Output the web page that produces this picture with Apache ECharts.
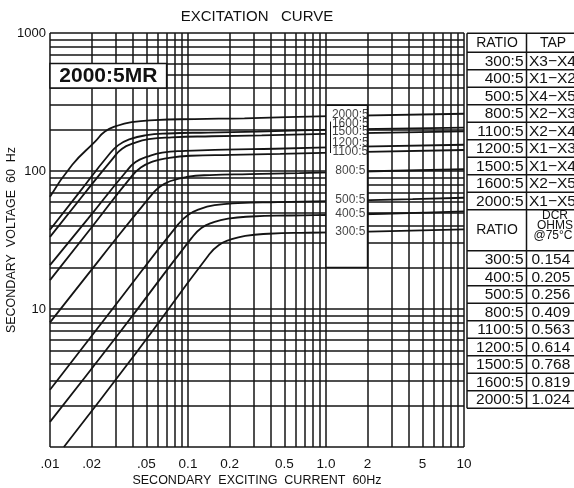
<!DOCTYPE html>
<html><head><meta charset="utf-8">
<script src="https://cdn.jsdelivr.net/npm/echarts@6/dist/echarts.min.js"></script>
<style>html,body{margin:0;padding:0;background:#fff}#c{width:574px;height:488px}</style>
</head><body><div id="c"></div>
<script>
// ---------- data ----------
const ratios  = ['300:5','400:5','500:5','800:5','1100:5','1200:5','1500:5','1600:5','2000:5'];
const taps    = ['X3\u2212X4','X1\u2212X2','X4\u2212X5','X2\u2212X3','X2\u2212X4','X1\u2212X3','X1\u2212X4','X2\u2212X5','X1\u2212X5'];
const dcrOhms = ['0.154','0.205','0.256','0.409','0.563','0.614','0.768','0.819','1.024'];

// excitation curves: [secondary exciting current (A), secondary voltage (V)]
const curve2000 = [[0.01,65],[0.0145,111],[0.0212,163],[0.025,193],[0.0304,212],[0.039,226],[0.0574,234],[0.112,238],[0.2565,241],[1.06,250],[10,260]];
const curve1600 = [[0.01,37.5],[0.0163,70],[0.0265,130],[0.0313,154],[0.038,170],[0.0488,181],[0.0718,187],[0.14,190],[0.32,193],[1.33,200],[10,206]];
const curve1500 = [[0.01,33.3],[0.0168,64],[0.0283,122],[0.0333,145],[0.0405,159],[0.052,170],[0.0765,175.5],[0.149,178.5],[0.342,181],[1.41,187.5],[10,194]];
const curve1200 = [[0.01,20.8],[0.0188,45],[0.0353,98],[0.0417,116],[0.0507,127],[0.065,136],[0.0957,140],[0.187,143],[0.428,145],[1.77,150],[10,155]];
const curve1100 = [[0.01,16.2],[0.0196,38],[0.0385,90],[0.0455,106],[0.0553,117],[0.0709,124],[0.104,129],[0.204,131],[0.466,133],[1.93,137.5],[10,142]];
const curve800  = [[0.01,8.0],[0.023,23],[0.053,65],[0.0625,77],[0.076,85],[0.0975,90.5],[0.1435,93.5],[0.28,95],[0.641,96.5],[2.65,100],[10,103]];
const curve500  = [[0.01,2.6],[0.029,10.3],[0.0848,41],[0.1,48],[0.1216,53],[0.156,56.5],[0.23,58.5],[0.448,59.5],[1.03,60.5],[4.24,62.5],[10,64]];
const curve400  = [[0.01,1.52],[0.0325,6.9],[0.106,32.6],[0.125,38.6],[0.152,42.4],[0.195,45.2],[0.287,46.8],[0.56,47.6],[1.28,48.2],[5.3,50],[10,51]];
const curve300  = [[0.0126,1],[0.042,4.8],[0.141,24.5],[0.1667,29],[0.203,31.8],[0.26,33.9],[0.383,35.1],[0.747,35.7],[1.71,36.2],[7.07,37.5],[10,37.8]];
const curves = [curve2000,curve1600,curve1500,curve1200,curve1100,curve800,curve500,curve400,curve300];

const curveLabelNames  = ['2000:5','1600:5','1500:5','1200:5','1100:5','800:5','500:5','400:5','300:5'];
const curveLabelLevels = [254,219,192,161,137,100,61.6,48.8,36.1];

const xTickValues = [0.01,0.02,0.05,0.1,0.2,0.5,1,2,5,10];
const xTickLabels = ['.01','.02','.05','0.1','0.2','0.5','1.0','2','5','10'];
const yTickValues = [10,100,1000];
const yTickLabels = ['10','100','1000'];

// log-paper grid: 1..9 in each decade
const gridMults = [1,2,3,4,5,6,7,8,9];
const xDecades = [0.01,0.1,1];
const yDecades = [1,10,100];
const xGrid = []; xDecades.forEach(d => gridMults.forEach(m => xGrid.push(+(d*m).toPrecision(4)))); xGrid.push(10);
const yGrid = []; yDecades.forEach(d => gridMults.forEach(m => yGrid.push(+(d*m).toPrecision(4)))); yGrid.push(1000);

// ---------- chart ----------
const FONT = "'Liberation Sans', Arial, sans-serif";
const INK = '#141414';
const chart = echarts.init(document.getElementById('c'), null, {renderer:'canvas'});

function fmtFrom(values, labels){
  return v => { const i = values.findIndex(t => Math.abs(Math.log10(t) - Math.log10(v)) < 1e-6); return i >= 0 ? labels[i] : ''; };
}

const series = [];
series.push({
  type:'line', data:[[0.01,1]], showSymbol:false, silent:true, z:1,
  lineStyle:{opacity:0},
  markLine:{
    z:1, silent:true, symbol:['none','none'], label:{show:false}, emphasis:{disabled:true},
    lineStyle:{color:INK, width:1.5, type:'solid'},
    data:[...xGrid.map(v => ({xAxis:v})), ...yGrid.map(v => ({yAxis:v}))]
  }
});
curves.forEach((c,i) => series.push({
  type:'line', name:curveLabelNames[i], data:c, showSymbol:false, silent:true, z:2,
  smooth:0.5,
  lineStyle:{color:INK, width:1.8}
}));
series.push({
  type:'line', data:[[0.01,1]], showSymbol:false, silent:true, z:10,
  lineStyle:{opacity:0},
  markArea:{
    z:10, silent:true, label:{show:false},
    itemStyle:{color:'#ffffff', borderColor:INK, borderWidth:1.5},
    data:[
      [{name:'2000:5MR', coord:[0.01,600], label:{show:true, position:'inside', fontSize:21, fontWeight:'bold', color:'#111', fontFamily:FONT}}, {coord:[0.07,400]}],
      [{coord:[1,300]}, {coord:[2,20]}]
    ]
  },
  markLine:{
    z:11, silent:true, symbol:['none','none'], label:{show:false}, emphasis:{disabled:true},
    lineStyle:{color:INK, width:1, type:'solid'},
    data:[[{coord:[1.075,228]},{coord:[1.075,135]}]]
  }
});
series.push({
  type:'scatter', z:12, silent:true, symbolSize:1, itemStyle:{color:'rgba(0,0,0,0)'},
  data: curveLabelNames.map((n,i) => [1.5, curveLabelLevels[i], n]),
  label:{show:true, position:'inside', formatter:p => p.value[2], fontSize:12, color:'#111', fontFamily:FONT}
});

// table (graphic)
const T = {left:467, mid:526.5, right:585, top:33.3, h1:19, row:17.5, h2:41};
const g = [];
const lineStyle = {stroke:INK, lineWidth:1.5};
const hy = [T.top, T.top+T.h1];
for (let i=1;i<=9;i++) hy.push(T.top+T.h1+T.row*i);
const t2 = T.top+T.h1+T.row*9;
hy.push(t2+T.h2);
for (let i=1;i<=9;i++) hy.push(t2+T.h2+T.row*i);
const tBottom = hy[hy.length-1];
hy.forEach(y => g.push({type:'line', shape:{x1:T.left,y1:y,x2:T.right,y2:y}, style:lineStyle, z:100}));
[T.left, T.mid].forEach(x => g.push({type:'line', shape:{x1:x,y1:T.top,x2:x,y2:tBottom}, style:lineStyle, z:100}));
const txt = (s,x,y,align,size,extra) => g.push({type:'text', x:x, y:y, z:101,
  style:Object.assign({text:s, fill:'#111', font:`${size}px ${FONT}`, textAlign:align, textVerticalAlign:'middle'}, extra||{})});
const HF = "'Liberation Sans Narrow', 'Liberation Sans', Arial, sans-serif";
g.push({type:'text', x:497, y:T.top+T.h1/2+0.5, z:101, style:{text:'RATIO', fill:'#111', font:`14px ${HF}`, textAlign:'center', textVerticalAlign:'middle'}});
g.push({type:'text', x:553, y:T.top+T.h1/2+0.5, z:101, style:{text:'TAP', fill:'#111', font:`14px ${HF}`, textAlign:'center', textVerticalAlign:'middle'}});
ratios.forEach((r,i) => {
  const yc = T.top+T.h1+T.row*i+T.row/2+0.5;
  txt(r, 523.5, yc, 'right', 15.5);
  txt(taps[i], 529, yc, 'left', 15.5);
});
g.push({type:'text', x:497, y:t2+T.h2/2, z:101, style:{text:'RATIO', fill:'#111', font:`14px ${HF}`, textAlign:'center', textVerticalAlign:'middle'}});
g.push({type:'text', x:555, y:t2+5.5, z:101, style:{text:'DCR', fill:'#111', font:`12px ${HF}`, textAlign:'center', textVerticalAlign:'middle'}});
g.push({type:'text', x:555, y:t2+15.5, z:101, style:{text:'OHMS', fill:'#111', font:`12px ${HF}`, textAlign:'center', textVerticalAlign:'middle'}});
g.push({type:'text', x:553, y:t2+25.5, z:101, style:{text:'@75\u00B0C', fill:'#111', font:`12px ${HF}`, textAlign:'center', textVerticalAlign:'middle'}});
ratios.forEach((r,i) => {
  const yc = t2+T.h2+T.row*i+T.row/2+0.5;
  txt(r, 523.5, yc, 'right', 15.5);
  txt(dcrOhms[i], 531.5, yc, 'left', 15.5);
});
g.push({type:'text', x:257, y:17, z:101, style:{text:'EXCITATION   CURVE', fill:'#111', font:`15px ${FONT}`, textAlign:'center', textVerticalAlign:'middle'}});

chart.setOption({
  animation:false,
  backgroundColor:'#ffffff',
  textStyle:{fontFamily:FONT},
  grid:{left:50, right:110, top:33, bottom:41, containLabel:false, outerBoundsMode:'none'},
  xAxis:{
    type:'log', logBase:10, min:0.01, max:10,
    axisLine:{show:false}, axisTick:{show:false}, splitLine:{show:false},
    axisLabel:{customValues:xTickValues, formatter:fmtFrom(xTickValues,xTickLabels), fontSize:13.5, color:'#111', margin:10, fontFamily:FONT},
    name:'SECONDARY  EXCITING  CURRENT  60Hz', nameLocation:'middle', nameGap:27, nameMoveOverlap:false,
    nameTextStyle:{fontSize:12.5, color:'#111', fontFamily:FONT}
  },
  yAxis:{
    type:'log', logBase:10, min:1, max:1000,
    axisLine:{show:false}, axisTick:{show:false}, splitLine:{show:false},
    axisLabel:{customValues:yTickValues, formatter:fmtFrom(yTickValues,yTickLabels), fontSize:13, color:'#111', margin:4, fontFamily:FONT},
    name:'SECONDARY  VOLTAGE  60  Hz', nameLocation:'middle', nameRotate:90, nameGap:32, nameMoveOverlap:false,
    nameTextStyle:{fontSize:12.5, color:'#111', fontFamily:FONT}
  },
  series:series,
  graphic:g
});
</script></body></html>
